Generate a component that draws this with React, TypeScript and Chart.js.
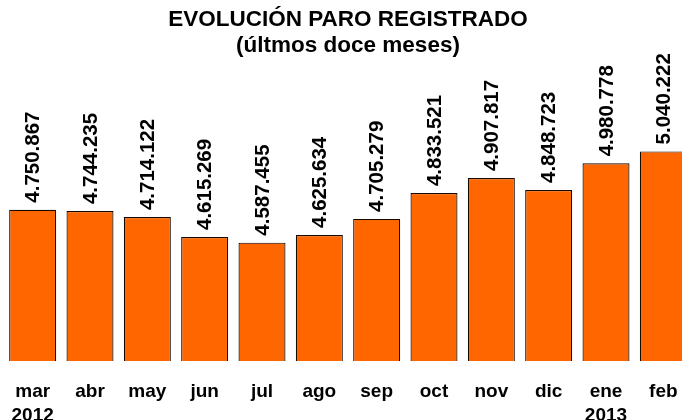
import React, { useEffect, useRef } from "react";
import { Chart, registerables } from "chart.js";

Chart.register(...registerables);

const months = ["mar", "abr", "may", "jun", "jul", "ago", "sep", "oct", "nov", "dic", "ene", "feb"];
const years = ["2012", "", "", "", "", "", "", "", "", "", "2013", ""];
const values = [4750867, 4744235, 4714122, 4615269, 4587455, 4625634, 4705279, 4833521, 4907817, 4848723, 4980778, 5040222];
const titleLines = ["EVOLUCIÓN PARO REGISTRADO", "(últmos doce meses)"];

const FONT = "'Liberation Sans', Arial, Helvetica, sans-serif";

function fmt(v: number): string {
  return String(v).replace(/\B(?=(\d{3})+(?!\d))/g, ".");
}

const valueLabels = {
  id: "valueLabels",
  afterDatasetsDraw(chart: any) {
    const ctx = chart.ctx;
    const meta = chart.getDatasetMeta(0);
    ctx.save();
    ctx.fillStyle = "#000";
    ctx.font = `bold 20.5px ${FONT}`;
    ctx.textAlign = "left";
    ctx.textBaseline = "middle";
    meta.data.forEach((bar: any, i: number) => {
      ctx.save();
      ctx.translate(bar.x, bar.y - 7);
      ctx.rotate(-Math.PI / 2);
      ctx.fillText(fmt(values[i]), 0, 1);
      ctx.restore();
    });
    ctx.restore();
  },
};

export default function App() {
  const ref = useRef<HTMLCanvasElement | null>(null);
  useEffect(() => {
    if (!ref.current) return;
    const labels = months.map((m, i) => (years[i] ? [m, years[i]] : m));
    const chart = new Chart(ref.current, {
      type: "bar",
      data: {
        labels,
        datasets: [
          {
            data: values,
            backgroundColor: "#FF6600",
            borderColor: "#140800",
            borderWidth: 1.2,
            barPercentage: 0.82,
            categoryPercentage: 1,
          },
        ],
      },
      options: {
        responsive: false,
        animation: false,
        layout: { padding: { left: 4, right: 8, top: 0, bottom: 0 } },
        plugins: {
          legend: { display: false },
          tooltip: { enabled: false },
          title: {
            display: true,
            text: titleLines,
            color: "#000",
            font: { family: FONT, size: 22.5, weight: "bold", lineHeight: 1.15 },
            padding: { top: 7, bottom: 0 },
          },
        },
        scales: {
          x: {
            grid: { display: false, drawTicks: false },
            border: { display: false },
            afterFit: (scale: any) => {
              scale.paddingLeft = 0;
              scale.paddingRight = 0;
              scale.height = 63;
            },
            ticks: {
              color: "#000",
              padding: 19,
              maxRotation: 0,
              autoSkip: false,
              font: { family: FONT, size: 19, weight: "bold", lineHeight: 1.25 },
            },
          },
          y: {
            display: false,
            min: 4000000,
            max: 5500000,
          },
        },
      },
      plugins: [valueLabels],
    });
    return () => chart.destroy();
  }, []);
  return (
    <div style={{ position: "fixed", left: 0, top: 0, width: 682, height: 420, overflow: "hidden", background: "#fff" }}>
      <canvas ref={ref} width={700} height={424} style={{ display: "block" }} />
    </div>
  );
}
